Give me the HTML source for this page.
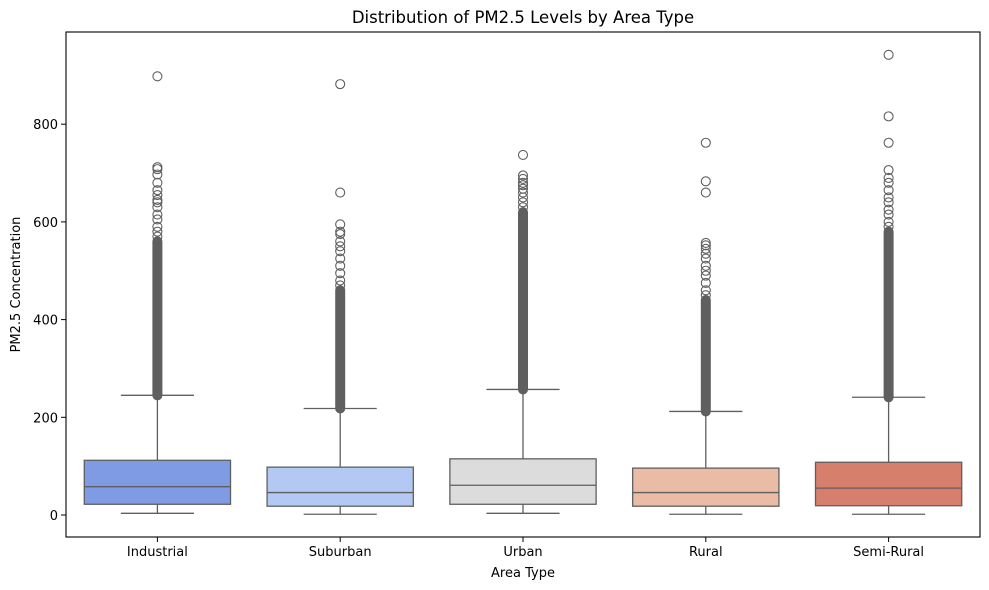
<!DOCTYPE html>
<html><head><meta charset="utf-8"><style>
body{margin:0;background:#fff;}
svg{display:block;font-family:"DejaVu Sans","Liberation Sans",sans-serif;}
</style></head><body>
<svg id="chart" width="989" height="590" viewBox="0 0 989 590"></svg>
<script>
const categories=["Industrial","Suburban","Urban","Rural","Semi-Rural"];
const colors=["#7f9be4","#b3c9f3","#dcdcdc","#ebbca5","#d67f6c"];
const whiskerLow=[3.5,1.5,3.5,1.5,1.5];
const q1=[22,18,22,18,19];
const median=[58,46,61,46,55];
const q3=[112,98,115,96,108];
const whiskerHigh=[245,218,257,212,241];
const denseOutlierTop=[560,460,620,440,580];
const outliers=[
 [898,712,708,697,680,665,655,645,640,630,615,605,590,580,570],
 [882,660,595,580,575,560,550,540,525,510,495,480,470],
 [737,695,688,680,675,668,660,650,640,630],
 [762,683,660,557,552,545,535,525,510,500,490,475,460,450],
 [942,816,762,706,690,680,665,650,640,625,615,600,590]
];
const yTicks=[0,200,400,600,800];
const L=66,R=980,T=32,B=537,yMin=-45,yMax=988.7;
const y=v=>B-(v-yMin)/(yMax-yMin)*(B-T);
const step=(R-L)/categories.length;
const x=i=>L+step*(i+0.5);
const svg=document.getElementById('chart');
const NS='http://www.w3.org/2000/svg';
function mk(tag,attrs,parent){const e=document.createElementNS(NS,tag);for(const k in attrs)e.setAttribute(k,attrs[k]);(parent||svg).appendChild(e);return e;}
const line='#5f5f5f';
categories.forEach((c,i)=>{
 const g=mk('g',{});
 
 
 const cx=x(i),bw=step*0.8,cw=step*0.4;
 mk('line',{x1:cx,x2:cx,y1:y(whiskerLow[i]),y2:y(q1[i]),stroke:line,'stroke-width':1.3},g);
 mk('line',{x1:cx,x2:cx,y1:y(q3[i]),y2:y(whiskerHigh[i]),stroke:line,'stroke-width':1.3},g);
 mk('line',{x1:cx-cw/2,x2:cx+cw/2,y1:y(whiskerLow[i]),y2:y(whiskerLow[i]),stroke:line,'stroke-width':1.3},g);
 mk('line',{x1:cx-cw/2,x2:cx+cw/2,y1:y(whiskerHigh[i]),y2:y(whiskerHigh[i]),stroke:line,'stroke-width':1.3},g);
 mk('rect',{x:cx-bw/2,y:y(q3[i]),width:bw,height:y(q1[i])-y(q3[i]),fill:colors[i],stroke:line,'stroke-width':1.3},g);
 mk('line',{x1:cx-bw/2,x2:cx+bw/2,y1:y(median[i]),y2:y(median[i]),stroke:line,'stroke-width':1.3},g);
 const d=mk('line',{x1:cx,x2:cx,y1:y(whiskerHigh[i]),y2:y(denseOutlierTop[i]),stroke:line,'stroke-width':10,'stroke-linecap':'round'},g);
 
 
 outliers[i].forEach(v=>{
  const o=mk('circle',{cx:cx,cy:y(v),r:4.5,fill:'none',stroke:line,'stroke-width':1.1},g);
  
  
 });
 mk('line',{x1:cx,x2:cx,y1:B,y2:B+5,stroke:'#000','stroke-width':1},g);
 const t=mk('text',{x:cx,y:B+19,'text-anchor':'middle','font-size':13,fill:'#000'},g);
 t.textContent=c;
 
 
});
yTicks.forEach(v=>{
 mk('line',{x1:L-5,x2:L,y1:y(v),y2:y(v),stroke:'#000','stroke-width':1});
 const t=mk('text',{x:L-8,y:y(v)+5,'text-anchor':'end','font-size':13,fill:'#000'});
 t.textContent=v;
 
 
});
const fr=mk('rect',{x:L,y:T,width:R-L,height:B-T,fill:'none',stroke:'#000','stroke-width':1.1});


const tt=mk('text',{x:(L+R)/2,y:23,'text-anchor':'middle','font-size':16.5,fill:'#000'});
tt.textContent='Distribution of PM2.5 Levels by Area Type';


const xl=mk('text',{x:(L+R)/2,y:577,'text-anchor':'middle','font-size':13,fill:'#000'});
xl.textContent='Area Type';


const yl=mk('text',{x:20,y:(T+B)/2,'text-anchor':'middle','font-size':13,fill:'#000',transform:'rotate(-90 20 '+((T+B)/2)+')'});
yl.textContent='PM2.5 Concentration';


</script>
</body></html>
